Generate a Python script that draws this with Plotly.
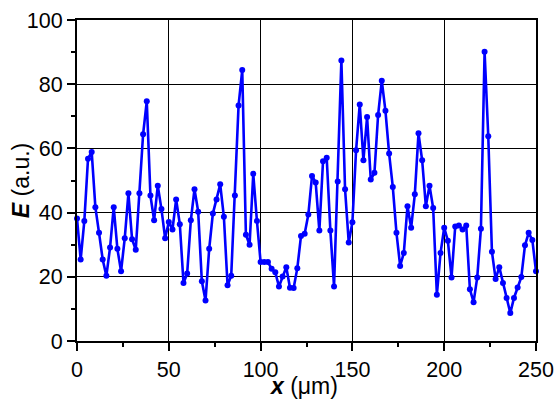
import plotly.graph_objects as go

x_um = [2 * i for i in range(126)]
energy = [
    38.2, 25.4, 37.4, 56.8, 58.9, 41.7, 33.7, 25.4, 20.3, 29.1,
    41.7, 28.7, 21.7, 32.0, 46.0, 31.7, 28.4, 46.0, 64.4, 74.7,
    45.3, 37.6, 48.4, 41.1, 32.0, 37.1, 34.7, 44.1, 36.4, 18.1,
    21.0, 37.6, 47.3, 40.3, 18.6, 12.6, 28.7, 39.7, 44.1, 48.8,
    38.7, 17.4, 20.3, 45.3, 73.4, 84.4, 33.1, 30.0, 52.1, 37.4,
    24.6, 24.6, 24.6, 22.5, 21.4, 17.0, 20.1, 23.0, 16.6, 16.5,
    22.7, 32.7, 33.4, 39.4, 51.4, 49.4, 34.4, 56.0, 57.1, 34.4,
    17.0, 49.7, 87.4, 47.3, 30.7, 37.0, 59.4, 73.7, 56.3, 69.8,
    50.3, 52.4, 70.4, 81.1, 71.7, 58.4, 48.0, 33.7, 23.4, 27.4,
    42.0, 35.3, 45.7, 64.7, 56.3, 42.0, 48.4, 41.4, 14.4, 27.4,
    35.3, 31.2, 19.8, 35.7, 36.0, 34.7, 36.0, 16.1, 12.1, 19.8,
    35.0, 90.1, 63.8, 27.8, 19.3, 23.0, 18.1, 13.4, 8.7, 13.4,
    16.7, 19.9, 29.8, 33.7, 31.5, 21.7,
]
x_ticks = [0, 50, 100, 150, 200, 250]
y_ticks = [0, 20, 40, 60, 80, 100]
x_title = "<b><i>x</i></b> (μm)"
y_title = "<b><i>E</i></b> (a.u.)"

fig = go.Figure(
    go.Scatter(
        x=x_um, y=energy, mode="lines+markers",
        line=dict(color="#0000FF", width=2.6),
        marker=dict(color="#0000FF", size=6),
        cliponaxis=False,
    )
)

font = dict(family="Liberation Sans, Arial, sans-serif", size=21.5, color="black")
title_font = dict(family="Liberation Sans, Arial, sans-serif", size=23, color="black")
axis_common = dict(
    showline=True, linecolor="black", linewidth=2, mirror=True,
    ticks="outside", ticklen=8, tickwidth=2, tickcolor="black",
    showgrid=True, gridcolor="black", gridwidth=1,
    zeroline=False, tickfont=font, automargin=False,
)

fig.update_xaxes(
    range=[0, 250], tickvals=x_ticks, ticktext=[str(v) for v in x_ticks],
    minor=dict(dtick=25, ticks="outside", ticklen=4, tickwidth=2, tickcolor="black", showgrid=False),
    **axis_common,
)
fig.update_yaxes(
    range=[0, 100], tickvals=y_ticks, ticktext=[str(v) for v in y_ticks],
    minor=dict(dtick=10, ticks="outside", ticklen=4, tickwidth=2, tickcolor="black", showgrid=False),
    **axis_common,
)

fig.add_annotation(
    text=x_title, xref="paper", yref="paper", x=0.493, y=-0.183,
    xanchor="center", yanchor="bottom", showarrow=False, font=title_font,
    borderpad=0,
)
fig.add_annotation(
    text=y_title, xref="paper", yref="paper", x=-0.122, y=0.498,
    xanchor="center", yanchor="middle", showarrow=False, textangle=-90, font=title_font,
)

fig.update_layout(
    width=556, height=400,
    margin=dict(l=77, r=20, t=20, b=59),
    plot_bgcolor="white", paper_bgcolor="white",
    showlegend=False, font=font,
)

# remove the default page margin so the 556x400 figure fills the window exactly
fig.write_html(
    "out.html",
    config={"displayModeBar": False},
    post_script="document.body.style.margin='0';",
)
